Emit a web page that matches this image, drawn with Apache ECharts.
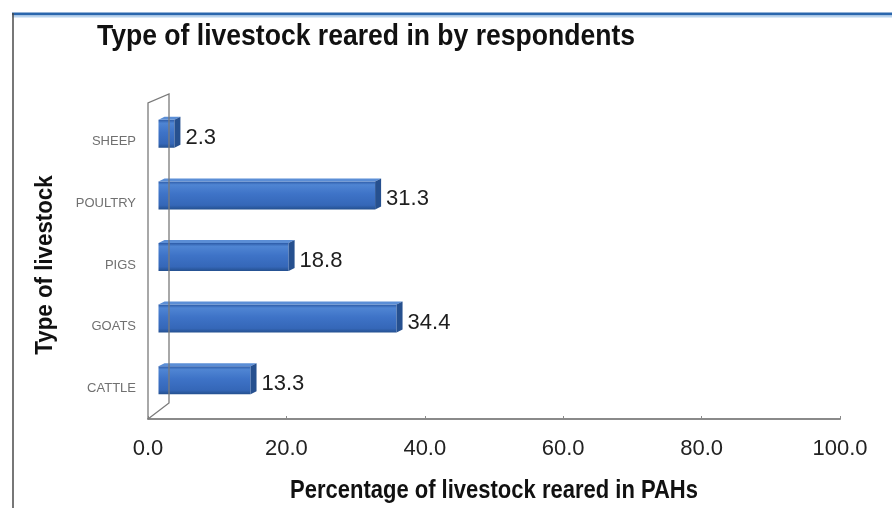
<!DOCTYPE html>
<html>
<head>
<meta charset="utf-8">
<script src="https://cdn.jsdelivr.net/npm/echarts@6/dist/echarts.min.js"></script>
<style>
  html, body { margin: 0; padding: 0; background: #ffffff; }
  #chart { width: 892px; height: 508px; }
</style>
</head>
<body>
<div id="chart"></div>
<script>
// Livestock types and the share of households rearing each
const categories = ['CATTLE', 'GOATS', 'PIGS', 'POULTRY', 'SHEEP'];
const shares = [13.3, 34.4, 18.8, 31.3, 2.3];
const xTicks = [0, 20, 40, 60, 80, 100];

const titleText = 'Type of livestock reared in by respondents';
const xName = 'Percentage of livestock reared in PAHs';
const yName = 'Type of livestock';

const SANS = "'Liberation Sans', Arial, sans-serif";

// pseudo-3D projection of the plot box
const DEPTH_X = 21, DEPTH_Y = -16;
const BAR_H = 28, CAP = 6;

const chart = echarts.init(document.getElementById('chart'), null, { renderer: 'canvas' });

function renderBar(params, api) {
  const v = api.value(0), c = api.value(1);
  const p0 = api.coord([0, c]);
  const p1 = api.coord([v, c]);
  const dx = DEPTH_X / 2, dy = DEPTH_Y / 2;
  const x0 = p0[0] + dx, x1 = p1[0] + dx;
  const yt = p1[1] + dy - BAR_H / 2, yb = yt + BAR_H;
  const face = new echarts.graphic.LinearGradient(0, 0, 0, 1, [
    { offset: 0, color: '#2c5aa6' },
    { offset: 0.12, color: '#4f85d3' },
    { offset: 0.45, color: '#3e73c7' },
    { offset: 0.85, color: '#3567b8' },
    { offset: 1, color: '#24508f' }
  ]);
  return {
    type: 'group',
    children: [
      { type: 'rect', shape: { x: x0, y: yt, width: x1 - x0, height: BAR_H },
        style: { fill: face } },
      { type: 'polygon', shape: { points: [[x0, yt], [x0 + CAP, yt - 3], [x1 + CAP, yt - 3], [x1, yt]] },
        style: { fill: '#5b8ed6' } },
      { type: 'polygon', shape: { points: [[x1, yt], [x1 + CAP, yt - 3], [x1 + CAP, yb - 3], [x1, yb]] },
        style: { fill: '#26508f' } },
      { type: 'text', style: { x: x1 + CAP + 5, y: p1[1] + dy + 4, text: v.toFixed(1),
        font: '22px ' + SANS, fill: '#1e1e1e', textVerticalAlign: 'middle' } }
    ]
  };
}

// condensed bold captions (horizontally squeezed text)
function caption(text, x, y, size, squeeze, align, rotation) {
  return {
    type: 'text', silent: true, x: x, y: y, rotation: rotation || 0,
    scaleX: squeeze, scaleY: 1,
    style: { text: text, font: 'bold ' + size + 'px ' + SANS, fill: '#111',
      textAlign: align, textVerticalAlign: 'middle' }
  };
}

chart.setOption({
  animation: false,
  backgroundColor: '#ffffff',
  grid: { left: 148, right: 52, top: 111, bottom: 89, containLabel: false, outerBoundsMode: 'none' },
  xAxis: {
    type: 'value', min: 0, max: 100, interval: 20,
    axisLine: { show: true, lineStyle: { color: '#8a8a8a', width: 2 } },
    axisTick: { show: true, inside: true, length: 3, lineStyle: { color: '#8a8a8a' } },
    axisLabel: { margin: 19, fontFamily: SANS, fontSize: 22, color: '#222',
      formatter: v => xTicks.includes(v) ? v.toFixed(1) : '' },
    splitLine: { show: false }
  },
  yAxis: {
    type: 'category', data: categories,
    axisLine: { show: false }, axisTick: { show: false },
    axisLabel: { margin: 12, fontFamily: SANS, fontSize: 13, color: '#707070' }
  },
  series: [{
    type: 'custom',
    renderItem: renderBar,
    encode: { x: 0, y: 1 },
    data: shares.map((v, i) => [v, i])
  }]
});

// back wall, frame and captions
function drawDecor() {
  const a = chart.convertToPixel({ xAxisIndex: 0, yAxisIndex: 0 }, [0, categories.length - 1]);
  const b = chart.convertToPixel({ xAxisIndex: 0, yAxisIndex: 0 }, [0, categories.length - 2]);
  const z = chart.convertToPixel({ xAxisIndex: 0, yAxisIndex: 0 }, [0, 0]);
  const band = b[1] - a[1];
  const x0 = a[0];
  const top = a[1] - band / 2;
  const bottom = z[1] + band / 2;
  const wallTop = top - 8;
  const line = { stroke: '#7a7a7a', lineWidth: 1.3, fill: null };
  chart.setOption({
    graphic: [
      { type: 'polyline', silent: true, z: 5,
        shape: { points: [[x0, bottom], [x0, wallTop], [x0 + DEPTH_X, wallTop + DEPTH_Y / 2 - 1],
                          [x0 + DEPTH_X, bottom + DEPTH_Y], [x0, bottom]] },
        style: line },
      { type: 'line', silent: true, shape: { x1: 12, y1: 14, x2: 892, y2: 14 },
        style: { stroke: '#2a66ad', lineWidth: 3 } },
      { type: 'line', silent: true, shape: { x1: 12, y1: 16.5, x2: 892, y2: 16.5 },
        style: { stroke: '#b9d3ee', lineWidth: 2 } },
      { type: 'line', silent: true, shape: { x1: 13, y1: 13, x2: 13, y2: 508 },
        style: { stroke: '#4a4a4a', lineWidth: 1.5 } },
      caption(titleText, 97, 37, 30, 0.885, 'left'),
      caption(xName, 494, 491, 25, 0.88, 'center'),
      caption(yName, 46, 265, 23, 0.97, 'center', Math.PI / 2)
    ]
  });
}
drawDecor();
</script>
</body>
</html>
